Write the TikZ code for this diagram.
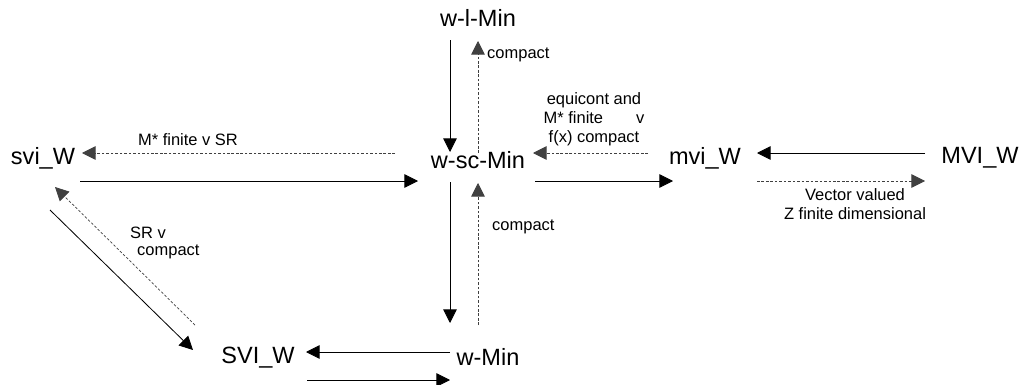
\documentclass[tikz,border=0pt]{standalone}
\usepackage{fontspec}
\setmainfont{Liberation Sans}
\usetikzlibrary{arrows.meta,calc}
\tikzset{
  big/.style={font=\fontsize{20}{23}\selectfont, inner sep=0pt},
  lbl/.style={font=\fontsize{14}{16}\selectfont, inner sep=0pt},
  sarr/.style={draw=black, line width=0.7pt, -{Triangle[length=11.5pt,width=11.5pt]}},
  darr/.style={draw=black!75, line width=0.6pt, dash pattern=on 2.2pt off 1.6pt, -{Triangle[length=11.5pt,width=11.5pt]}}
}
\begin{document}
\begin{tikzpicture}[x=0.85pt,y=-0.85pt]
\useasboundingbox (0,0) rectangle (1033,385);
\node[big] (wl) at (478,18) {w-l-Min};
\node[big] (wsc) at (478,160) {w-sc-Min};
\node[big] (svi) at (43,158) {svi\_W};
\node[big] (mvi) at (705,158) {mvi\_W};
\node[big] (MVI) at (980,158) {MVI\_W};
\node[big] (SVI) at (258,358) {SVI\_W};
\node[big] (wmin) at (488,357) {w-Min};

\draw[sarr] ($(wl)+(-28,22)$) -- ($(wsc)+(-28,-8)$);
\draw[darr] ($(wsc)+(0,-7)$) -- ($(wl)+(0,23)$);
\draw[darr] ($(mvi)+(-57,-5)$) -- ($(wsc)+(55,-7)$);
\draw[sarr] ($(wsc)+(57,21)$) -- ($(mvi)+(-32,23)$);
\draw[sarr] ($(MVI)+(-55,-5)$) -- ($(mvi)+(52,-5)$);
\draw[darr] ($(mvi)+(52,23)$) -- ($(MVI)+(-55,23)$);
\draw[darr] ($(wsc)+(-83,-7)$) -- ($(svi)+(39,-5)$);
\draw[sarr] ($(svi)+(37,23)$) -- ($(wsc)+(-60,21)$);
\draw[darr] ($(SVI)+(-63,-33)$) -- ($(svi)+(12,29)$);
\draw[sarr] ($(svi)+(7,52)$) -- ($(SVI)+(-65,-8)$);
\draw[sarr] ($(wsc)+(-28,22)$) -- ($(wmin)+(-38,-34)$);
\draw[darr] ($(wmin)+(-10,-32)$) -- ($(wsc)+(0,23)$);
\draw[sarr] ($(wmin)+(-38,-5)$) -- ($(SVI)+(48,-6)$);
\draw[sarr] ($(SVI)+(49,22)$) -- ($(wmin)+(-38,23)$);

\node[lbl, anchor=west] (l1) at (487,55) {compact};
\node[lbl, align=center] (l2) at (594,119) {equicont and\\M* finite\hspace{2em}v\\f(x) compact};
\node[lbl] (l3) at (188,140) {M* finite v SR};
\node[lbl, anchor=west] (l4a) at (130,233) {SR v};
\node[lbl, anchor=west] (l4b) at (137,252) {compact};
\node[lbl, anchor=west] (l5) at (492,227) {compact};
\node[lbl, align=center] (l6) at (855,204) {Vector valued\\Z finite dimensional};
\end{tikzpicture}
\end{document}
